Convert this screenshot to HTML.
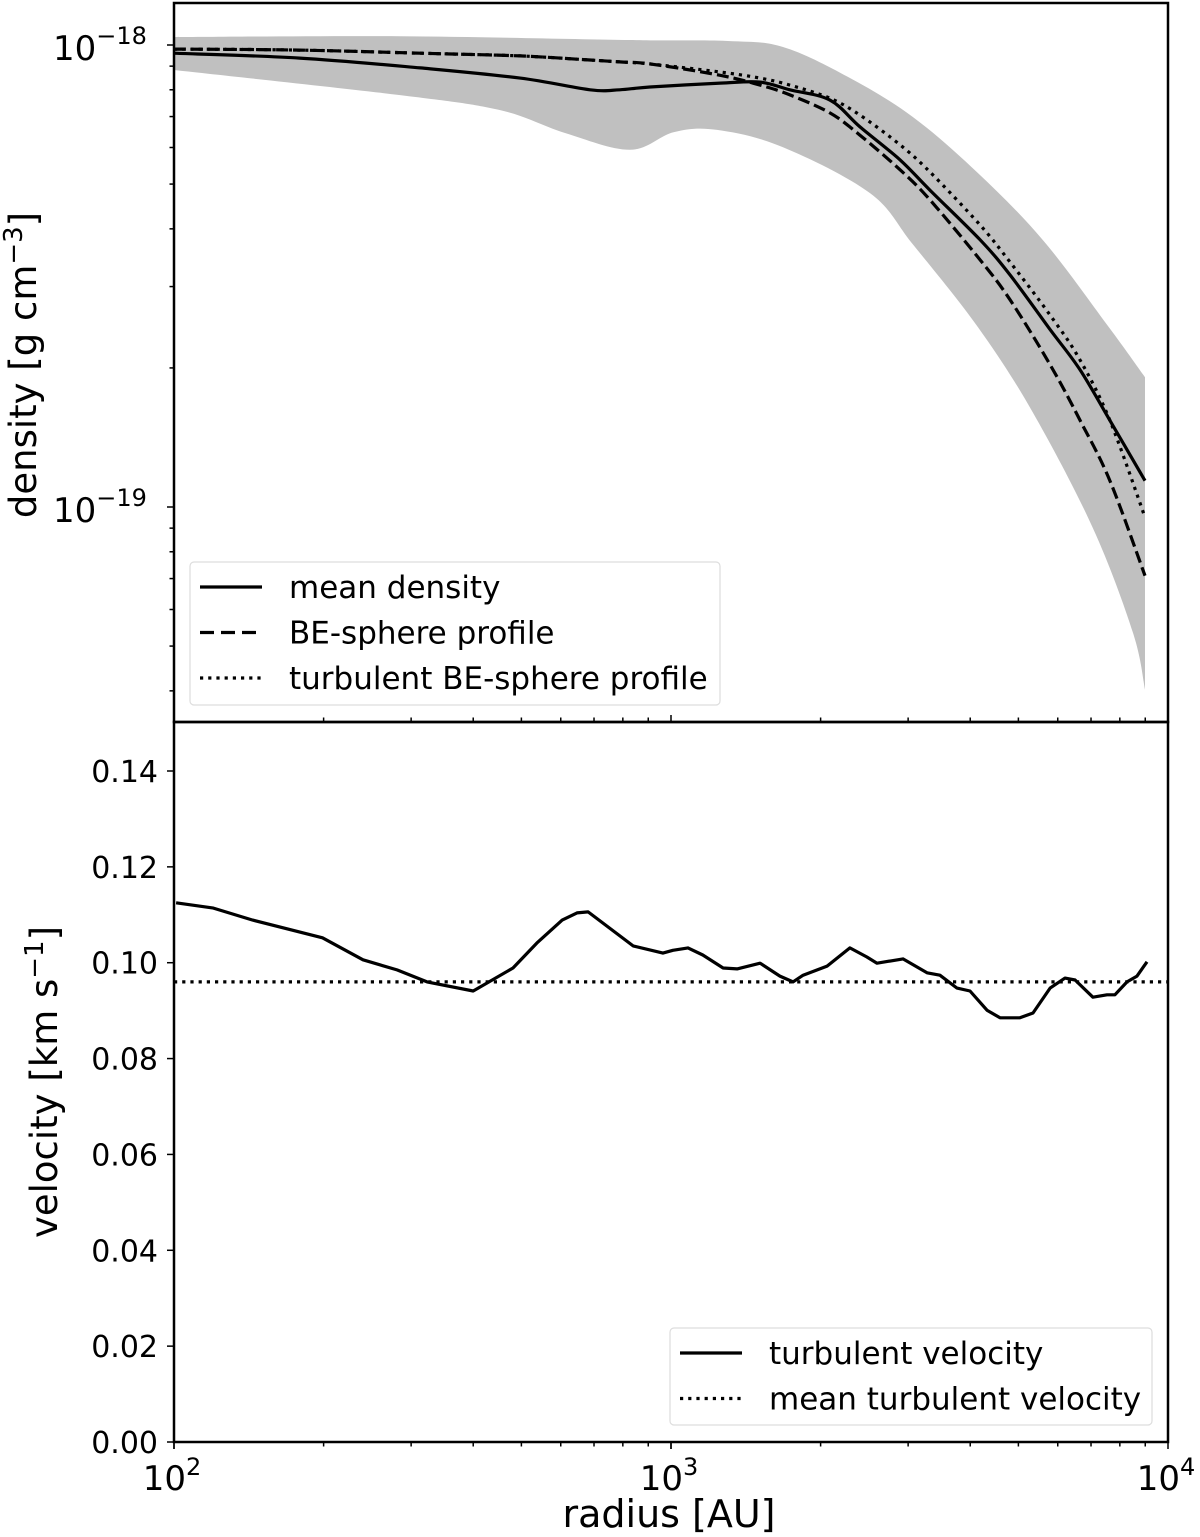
<!DOCTYPE html>
<html><head><meta charset="utf-8"><style>
html,body{margin:0;padding:0;background:#fff;}
svg{display:block;font-family:"DejaVu Sans","Liberation Sans",sans-serif;}
</style></head><body>
<svg id="chart" width="1200" height="1537" viewBox="0 0 1200 1537" xmlns="http://www.w3.org/2000/svg">
<g id="topPanel"></g>
<g id="botPanel"></g>
</svg>
<script>
// density values in units of 1e-19 g cm^-3, radius in AU
const rMean = [100,179,313,497,687,789,907,1256,1510,1735,2088,2400,2890,3320,4185,4810,5795,6655,7640,8990];
const densMean = [9.6,9.37,8.92,8.48,8.0,8.0,8.11,8.27,8.31,8.0,7.6,6.65,5.64,4.85,3.79,3.18,2.42,1.98,1.54,1.14];
const densBE = [9.8,9.75,9.6,9.47,9.28,9.19,9.1,8.6,8.19,7.8,7.13,6.38,5.37,4.62,3.43,2.81,2.03,1.54,1.14,0.71];
const densTurbBE = [9.8,9.75,9.6,9.47,9.28,9.19,9.1,8.74,8.48,8.19,7.67,7.05,6.08,5.31,4.08,3.39,2.60,2.08,1.54,0.95];
const rBandUp = [100,285,827,1300,1680,2270,3069,4147,5605,7606,8990];
const bandUp = [10.4,10.45,10.25,10.2,9.9,8.53,6.98,5.28,3.78,2.45,1.91];
const rBandLo = [100,285,453,612,827,1014,1238,1680,2514,3069,4147,5350,7063,8505,8990];
const bandLo = [8.83,7.79,7.23,6.45,5.93,6.48,6.55,6.01,4.78,3.70,2.45,1.60,0.90,0.534,0.402];
const rVel = [101,120,144,199,240,281,323,400,481,537,604,647,681,839,963,1009,1082,1159,1273,1358,1511,1656,1760,1844,2061,2291,2478,2597,2930,3274,3476,3763,3996,4324,4592,5035,5350,5790,6205,6501,7063,7539,7820,8270,8663,9075];
const vel = [0.1125,0.1114,0.1089,0.1052,0.1006,0.0985,0.0960,0.0941,0.0989,0.1041,0.1089,0.1104,0.1106,0.1035,0.1020,0.1026,0.1031,0.1016,0.0989,0.0987,0.0999,0.0972,0.0960,0.0974,0.0993,0.1031,0.1012,0.0999,0.1008,0.0979,0.0974,0.0947,0.0941,0.0901,0.0885,0.0885,0.0895,0.0947,0.0968,0.0964,0.0928,0.0933,0.0933,0.0960,0.0972,0.1002];
const velMean = 0.096;
const velTicks = [0,0.02,0.04,0.06,0.08,0.10,0.12,0.14];
const velTickLabels = ["0.00","0.02","0.04","0.06","0.08","0.10","0.12","0.14"];
const xTickExp = [2,3,4];

const NS="http://www.w3.org/2000/svg";
const L=174,R=1168,T=3,MID=722,B=1442;
const xs = r => L + (Math.log10(r)-2)*(R-L)/2;
const yd = d => 45 + (1 - Math.log10(d))*462;
const yv = v => B - v*(B-771)/0.14;
function el(p,tag,attrs){const e=document.createElementNS(NS,tag);for(const k in attrs)e.setAttribute(k,attrs[k]);p.appendChild(e);return e;}
const topG=document.getElementById('topPanel'), botG=document.getElementById('botPanel');

// smooth path through points (Catmull-Rom)
function smoothPath(P, start){
  let d=(start?'M':'L')+P[0][0].toFixed(1)+' '+P[0][1].toFixed(1);
  for(let i=0;i<P.length-1;i++){
    const p0=P[Math.max(i-1,0)],p1=P[i],p2=P[i+1],p3=P[Math.min(i+2,P.length-1)];
    const c1=[p1[0]+(p2[0]-p0[0])/6,p1[1]+(p2[1]-p0[1])/6];
    const c2=[p2[0]-(p3[0]-p1[0])/6,p2[1]-(p3[1]-p1[1])/6];
    d+='C'+c1[0].toFixed(1)+' '+c1[1].toFixed(1)+' '+c2[0].toFixed(1)+' '+c2[1].toFixed(1)+' '+p2[0].toFixed(1)+' '+p2[1].toFixed(1);
  }
  return d;
}

const up=rBandUp.map((r,i)=>[xs(r),yd(bandUp[i])]);
const lo=rBandLo.map((r,i)=>[xs(r),yd(bandLo[i])]).reverse();
const band=el(topG,'path',{d:smoothPath(up,true)+' '+smoothPath(lo,false)+'Z',fill:'#c0c0c0'});



function line(p,rs,vs,fy,dash,name,smooth){
  const P=rs.map((r,i)=>[xs(r),fy(vs[i])]);
  const d=smooth?smoothPath(P,true):P.map((q,i)=>(i?'L':'M')+q[0].toFixed(1)+' '+q[1].toFixed(1)).join(' ');
  const a={d:d,fill:'none',stroke:'#000','stroke-width':3.2,'stroke-linejoin':'round'};
  if(dash)a['stroke-dasharray']=dash;
  const e=el(p,'path',a);
  
  
}
line(topG,rMean,densBE,yd,'12,5','be-sphere-line',true);
line(topG,rMean,densTurbBE,yd,'3.2,5','turbulent-be-line',true);
line(topG,rMean,densMean,yd,null,'mean-density-line',true);

const mv=el(botG,'line',{x1:L,x2:R,y1:yv(velMean),y2:yv(velMean),stroke:'#000','stroke-width':3.2,'stroke-dasharray':'3.2,5'});


line(botG,rVel,vel,yv,null,'turbulent-velocity-line',false);

el(topG,'rect',{x:L,y:T,width:R-L,height:MID-T,fill:'none',stroke:'#000','stroke-width':2.5});
el(botG,'rect',{x:L,y:MID,width:R-L,height:B-MID,fill:'none',stroke:'#000','stroke-width':2.5});

for(let e=2;e<4;e++)for(let m=1;m<=9;m++){
  const x=xs(m*Math.pow(10,e));
  const len=m===1?7:4.5;
  el(topG,'line',{x1:x,x2:x,y1:MID,y2:MID-len,stroke:'#000','stroke-width':1.5});
  el(botG,'line',{x1:x,x2:x,y1:B,y2:B+len,stroke:'#000','stroke-width':1.5});
}
xTickExp.forEach(e=>{
  const x=xs(Math.pow(10,e));
  el(botG,'line',{x1:x,x2:x,y1:B,y2:B+7,stroke:'#000','stroke-width':1.5});
  const t=el(botG,'text',{x:x-2,y:1490,'font-size':34,'text-anchor':'middle'});
  
  
  t.innerHTML='10<tspan dy="-15" font-size="24">'+e+'</tspan>';
});
const xt=el(botG,'text',{x:669,y:1527,'font-size':38,'text-anchor':'middle'});


xt.textContent='radius [AU]';

[0.4,0.5,0.6,0.7,0.8,0.9,2,3,4,5,6,7,8,9].forEach(d=>{const y=yd(d);el(topG,'line',{x1:L,x2:L-4.5,y1:y,y2:y,stroke:'#000','stroke-width':1.5});});
[[10,'18'],[1,'19']].forEach(([d,e])=>{
  const y=yd(d);
  el(topG,'line',{x1:L,x2:L-7,y1:y,y2:y,stroke:'#000','stroke-width':1.5});
  const t=el(topG,'text',{x:53,y:y+15,'font-size':34});
  
  
  t.innerHTML='10<tspan dy="-16" font-size="24">\u2212'+e+'</tspan>';
});
const yt1=el(topG,'text',{transform:'translate(36,365) rotate(-90)','font-size':37,'text-anchor':'middle'});


yt1.innerHTML='density [g cm<tspan dy="-14" font-size="26">\u22123</tspan><tspan dy="14">]</tspan>';

velTicks.forEach((v,i)=>{
  const y=yv(v);
  el(botG,'line',{x1:L,x2:L-7,y1:y,y2:y,stroke:'#000','stroke-width':1.5});
  const t=el(botG,'text',{x:158,y:y+11,'font-size':30,'text-anchor':'end'});
  
  
  t.textContent=velTickLabels[i];
});
const yt2=el(botG,'text',{transform:'translate(57,1082) rotate(-90)','font-size':37,'text-anchor':'middle'});


yt2.innerHTML='velocity [km s<tspan dy="-14" font-size="26">\u22121</tspan><tspan dy="14">]</tspan>';

function legend(p,x,y,w,h,items,name){
  const g=el(p,'g',{});
  
  
  el(g,'rect',{x:x,y:y,width:w,height:h,rx:4,fill:'#fff','fill-opacity':0.85,stroke:'#ddd','stroke-width':1.2});
  items.forEach((it,i)=>{
    const cy=y+25+i*45.5;
    const a={x1:x+10,x2:x+72,y1:cy,y2:cy,stroke:'#000','stroke-width':3.2};
    if(it[1])a['stroke-dasharray']=it[1];
    el(g,'line',a);
    const t=el(g,'text',{x:x+99,y:cy+11,'font-size':31});
    
    
    t.textContent=it[0];
  });
}
legend(topG,190,562,530,143,[['mean density',null],['BE-sphere profile','14,7'],['turbulent BE-sphere profile','3.2,5']],'density-legend');
legend(botG,670,1328,482,97,[['turbulent velocity',null],['mean turbulent velocity','3.2,5']],'velocity-legend');
</script>
</body></html>
